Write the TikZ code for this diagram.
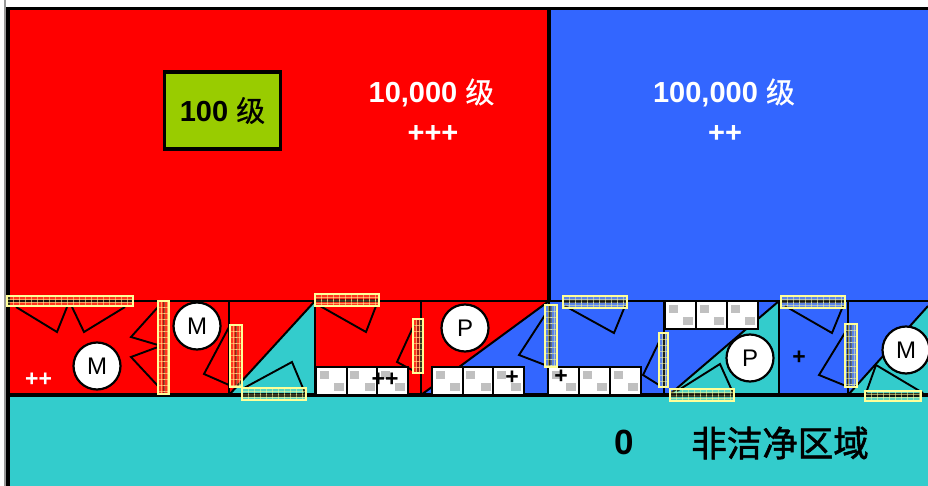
\documentclass[tikz,border=0pt]{standalone}
\usepackage{fontspec}
\setmainfont{Liberation Sans}
\newfontfamily\cjk[FakeBold=0.5]{Noto Sans CJK SC}
\newfontfamily\cjkb[FakeBold=1.6]{Noto Sans CJK SC}
\definecolor{cred}{RGB}{255,0,0}
\definecolor{cblue}{RGB}{51,102,255}
\definecolor{cteal}{RGB}{51,204,204}
\definecolor{cgreen}{RGB}{153,204,0}
\definecolor{cyel}{RGB}{255,255,153}
\definecolor{cgray}{RGB}{192,192,192}
\tikzset{
 wall/.style={draw=black,line width=3.6pt},
 mid wall/.style={draw=black,line width=2.4pt},
 thin wall/.style={draw=black,line width=2pt},
 door/.style={draw=black,line width=1.9pt,line join=miter},
 cellbox/.style={draw=black,line width=2pt,fill=white},
 machine/.style={circle,draw=black,line width=2.2pt,fill=white,minimum size=47pt,inner sep=0pt,font=\fontsize{24}{24}\selectfont},
 lbl/.style={font=\fontsize{29}{29}\selectfont\bfseries,text=white,inner sep=0pt},
 plusmark/.style={font=\fontsize{23}{23}\selectfont\bfseries,inner sep=0pt},
}
\newcommand{\filterh}[4]{%
 \fill[cyel,opacity=.2] (#1,#2) rectangle (#3,#4);
 \foreach \xx in {#1,...,#3}{\pgfmathparse{mod(\xx-#1,6)==0}\ifnum\pgfmathresult=1\draw[cyel,opacity=.5,line width=.6pt] (\xx,#2)--(\xx,#4);\fi}
 \foreach \yy in {3,6,9}{\draw[cyel,opacity=.5,line width=.6pt] (#1,#2+\yy)--(#3,#2+\yy);}
 \draw[black,opacity=.6,line width=2.2pt,dash pattern=on 5pt off 1pt] (#1+1,{(#2+#4)/2})--(#3-1,{(#2+#4)/2});
 \draw[cyel,line width=1.8pt] (#1,#2) rectangle (#3,#4);}
\newcommand{\filterv}[4]{%
 \fill[cyel,opacity=.2] (#1,#2) rectangle (#3,#4);
 \foreach \yy in {#2,...,#4}{\pgfmathparse{mod(\yy-#2,6)==0}\ifnum\pgfmathresult=1\draw[cyel,opacity=.5,line width=.6pt] (#1,\yy)--(#3,\yy);\fi}
 \foreach \xx in {3,6,9}{\pgfmathparse{#1+\xx<#3}\ifnum\pgfmathresult=1\draw[cyel,opacity=.5,line width=.6pt] (#1+\xx,#2)--(#1+\xx,#4);\fi}
 \draw[black,opacity=.4,line width=2pt,dash pattern=on 5pt off 1pt] ({(#1+#3)/2},#2+1)--({(#1+#3)/2},#4-1);
 \draw[cyel,line width=1.8pt] (#1,#2) rectangle (#3,#4);}
\newcommand{\cell}[2]{%
 \draw[cellbox] (#1,#2) rectangle ++(31,28);
 \fill[cgray] (#1+3.5,#2+4) rectangle ++(9,8);
 \fill[cgray] (#1+18,#2+16) rectangle ++(10,8);}
\begin{document}
\begin{tikzpicture}[x=1pt,y=-1pt]
\useasboundingbox (0,0) rectangle (928,486);
\fill[white] (0,0) rectangle (928,486);
\fill[cred] (8,9) rectangle (549,395);
\fill[cblue] (549,9) rectangle (928,395);
\fill[cteal] (8,395) rectangle (928,486);
\fill[cteal] (229,395) -- (315,301) -- (315,395) -- cycle;
\fill[cblue] (421,395) -- (549,301) -- (549,395) -- cycle;
\fill[cteal] (669,395) -- (779,301) -- (779,395) -- cycle;
\fill[cteal] (848,395) -- (928,306) -- (928,395) -- cycle;
% walls
\draw[line width=1.5pt,black!40] (5,0) -- (5,486);
\draw[wall] (6,8.5) -- (928,8.5);
\draw[wall] (8,7) -- (8,486);
\draw[wall] (549,9) -- (549,301);
\draw[mid wall] (8,301) -- (928,301);
\draw[wall] (8,395) -- (928,395);
\draw[thin wall] (229,301) -- (229,395);
\draw[thin wall] (315,301) -- (315,395);
\draw[thin wall] (421,301) -- (421,395);
\draw[thin wall] (549,301) -- (549,395);
\draw[thin wall] (664,301) -- (664,395);
\draw[thin wall] (779,301) -- (779,395);
\draw[thin wall] (848,301) -- (848,395);
\draw[thin wall] (229,395) -- (315,301);
\draw[thin wall] (421,395) -- (549,301);
\draw[thin wall] (669,395) -- (779,301);
\draw[thin wall] (848,395) -- (928,306);
% door leaves
\draw[door] (16,307) -- (57,332) -- (67,307);
\draw[door] (72,307) -- (84,332) -- (125,307);
\draw[door] (158,307) -- (131,337) -- (158,345);
\draw[door] (158,347) -- (131,357) -- (158,386);
\draw[door] (229,327) -- (204,374) -- (229,385);
\draw[door] (244,388) -- (292,362) -- (305,393);
\draw[door] (320,306) -- (366,332) -- (376,306);
\draw[door] (414,325) -- (397,362) -- (414,371);
\draw[door] (545,315) -- (519,355) -- (545,365);
\draw[door] (565,306) -- (614,333) -- (625,306);
\draw[door] (659,342) -- (643,375) -- (659,385);
\draw[door] (677,391) -- (720,364) -- (734,395);
\draw[door] (785,306) -- (832,333) -- (843,306);
\draw[door] (846,331) -- (819,375) -- (846,386);
\draw[door] (866,393) -- (876,365) -- (923,393);
% machines
\node[machine] (m1) at (97,366) {M};
\node[machine] (m2) at (197,326) {M};
\node[machine] (p1) at (465,328) {P};
\node[machine] (p2) at (750,358) {P};
\node[machine] (m3) at (906,350) {M};
% pass-through cells
\cell{316}{367}\cell{346.5}{367}\cell{377}{367}
\cell{432}{367}\cell{462.5}{367}\cell{493}{367}
\cell{548}{367}\cell{579}{367}\cell{610}{367}
\cell{665}{301}\cell{696}{301}\cell{727}{301}
% filters
\filterh{7}{296}{133}{306}
\filterh{315}{294}{379}{306}
\filterh{563}{296}{627}{308}
\filterh{781}{296}{845}{308}
\filterh{242}{388}{306}{400}
\filterh{670}{389}{734}{401}
\filterh{865}{391}{921}{401}
\filterv{158}{301}{169}{394}
\filterv{230}{325}{242}{387}
\filterv{413}{319}{423}{373}
\filterv{545}{305}{557}{367}
\filterv{659}{333}{668}{387}
\filterv{845}{324}{857}{387}
% labels
\node[draw=black,line width=3.6pt,fill=cgreen,minimum width=116pt,minimum height=77pt,inner sep=0pt,font=\fontsize{29}{29}\selectfont\bfseries] (clean) at (222.5,110.5) {100 {\cjk\mdseries 级}};
\node[lbl] (a) at (431.5,93) {10,000 {\cjk\mdseries 级}};
\node[lbl] (b) at (433,133.5) {+++};
\node[lbl] (c) at (724,93) {100,000 {\cjk\mdseries 级}};
\node[lbl] (d) at (725,133.5) {++};
\node[plusmark,text=white] (e) at (38.5,380) {++};
\node[plusmark] (f) at (385,379.5) {++};
\node[plusmark] (g) at (512,378) {+};
\node[plusmark] (h) at (561,377) {+};
\node[plusmark] (i) at (799,358) {+};
\node[font=\fontsize{35}{35}\selectfont\bfseries,inner sep=0pt] (z) at (624,442) {0};
\node[font=\fontsize{35.5}{36}\selectfont,inner sep=0pt] (y) at (780,443) {\cjkb 非洁净区域};
\end{tikzpicture}
\end{document}
